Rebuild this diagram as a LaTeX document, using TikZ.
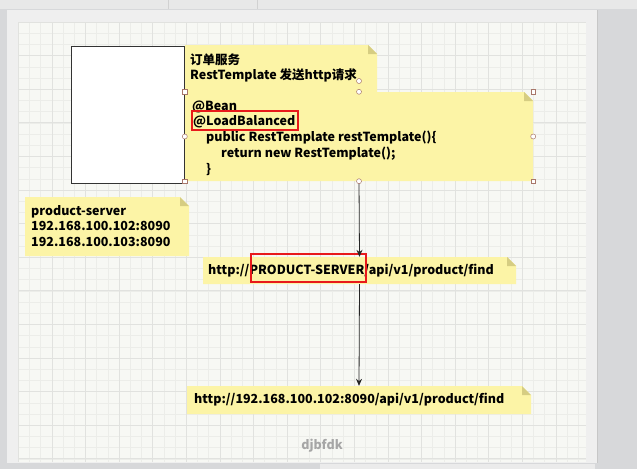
\documentclass[tikz,border=0pt]{standalone}
\usepackage{fontspec}
\setmainfont{Noto Sans CJK SC}
\usetikzlibrary{arrows.meta,fit}
\definecolor{outerg}{HTML}{D7D8DA}
\definecolor{pagec}{HTML}{EFEFEF}
\definecolor{gridbg}{HTML}{F7F8F4}
\definecolor{minorl}{HTML}{ECEDE9}
\definecolor{majorl}{HTML}{E1E2DF}
\definecolor{notey}{HTML}{FCF4A6}
\definecolor{notefold}{HTML}{D6CD82}
\definecolor{handlec}{HTML}{A8776A}
\definecolor{redc}{HTML}{E8191B}
\tikzset{
  txt/.style={anchor=west, inner sep=0pt, font=\fontsize{12.5}{14}\selectfont\bfseries, text height=8.8pt, text depth=0pt},
  notefit/.style={inner sep=0pt},
  svcbox/.style={draw=black!80, fill=white!97!green!2, line width=0.9pt, inner sep=0pt},
  redbox/.style={draw=redc, line width=2.6pt, inner sep=0pt},
  arr/.style={draw=black!85, line width=0.8pt, -{Stealth[length=7pt,width=6pt]}},
  hsq/.style={draw=handlec, fill=white, line width=0.5pt, minimum size=4.5pt, inner sep=0pt},
  hci/.style={draw=handlec, fill=white, line width=0.5pt, circle, minimum size=5pt, inner sep=0pt},
}
\newcommand\mynote[5]{% name, x1, y1, x2, y2
  \fill[notey] (#2,#3) -- ({#4-9},#3) -- (#4,{#3+9}) -- (#4,#5) -- (#2,#5) -- cycle;
  \fill[notefold] ({#4-9},#3) -- ({#4-9},{#3+9}) -- (#4,{#3+9}) -- cycle;
  \node[notefit, fit={(#2,#3) (#4,#5)}] (#1) {};
}
\begin{document}
\begin{tikzpicture}[x=1pt,y=-1pt]
\useasboundingbox (0,0) rectangle (637,469);
% window background
\fill[outerg] (0,0) rectangle (637,469);
\fill[black!9] (0,0) rectangle (637,9);
\draw[black!18] (168,0) -- (168,9) (257,0) -- (257,9);
\fill[pagec] (7,10) rectangle (597,463);
\draw[black!22] (597,10) -- (597,463);
\fill[gridbg] (18,22) rectangle (586,462);
\foreach \xx in {18.3,29.5,...,586} \draw[minorl, line width=0.6pt] (\xx,22) -- (\xx,462);
\foreach \yy in {22,33.2,...,462} \draw[minorl, line width=0.6pt] (18,\yy) -- (586,\yy);
\foreach \xx in {18.3,51.9,...,586} \draw[majorl, line width=0.8pt] (\xx,22) -- (\xx,462);
\foreach \yy in {22,55.6,...,462} \draw[majorl, line width=0.8pt] (18,\yy) -- (586,\yy);
\fill[black!8] (320,464) rectangle (595,469);
% service box
\node[svcbox, fit={(71,46) (184,183)}] (svc) {};
% notes
\mynote{n1}{185}{45}{377}{92}
\mynote{n2}{185}{92}{533}{181}
\mynote{n5}{25}{197}{189}{256}
\mynote{n3}{203}{257}{516}{284}
\mynote{n4}{187}{386}{531}{414}
% texts
\node[txt] (t11) at (190,60) {订单服务};
\node[txt] (t12) at (190,75) {RestTemplate 发送http请求};
\node[txt] (t21) at (192,106.5) {@Bean};
\node[txt] (t22) at (193,121.5) {@LoadBalanced};
\node[txt] (t23) at (206,137) {public RestTemplate restTemplate()\{};
\node[txt] (t24) at (221,153) {return new RestTemplate();};
\node[txt] (t25) at (206,169) {\}};
\node[txt] (t51) at (31,211) {product-server};
\node[txt] (t52) at (31,226) {192.168.100.102:8090};
\node[txt] (t53) at (31,242) {192.168.100.103:8090};
\node[txt] (t3) at (208,270) {http://PRODUCT-SERVER/api/v1/product/find};
\node[txt] (t4) at (194,399.5) {http://192.168.100.102:8090/api/v1/product/find};
% red highlights
\node[redbox, fit={(192,111) (298,130)}] (r1) {};
\node[redbox, fit={(251,254) (366,282)}] (r2) {};
% connectors
\draw[arr] (n2.south) -- (n3.north);
\draw[arr] (n3.south) -- (n4.north);
% selection handles
\node[hci] (hrot) at (359,81) {};
\node[hsq] (h1) at (n2.north west) {};
\node[hci] (h2) at (n2.north) {};
\node[hsq] (h3) at (n2.north east) {};
\node[hci] (h4) at (n2.west) {};
\node[hci] (h5) at (n2.east) {};
\node[hsq] (h6) at (n2.south west) {};
\node[hci] (h7) at (n2.south) {};
\node[hsq] (h8) at (n2.south east) {};
% watermark
\node[font=\fontsize{12.5}{14}\selectfont\bfseries, text=black!35, inner sep=0pt] (wm) at (322,446) {djbfdk};
\end{tikzpicture}
\end{document}
